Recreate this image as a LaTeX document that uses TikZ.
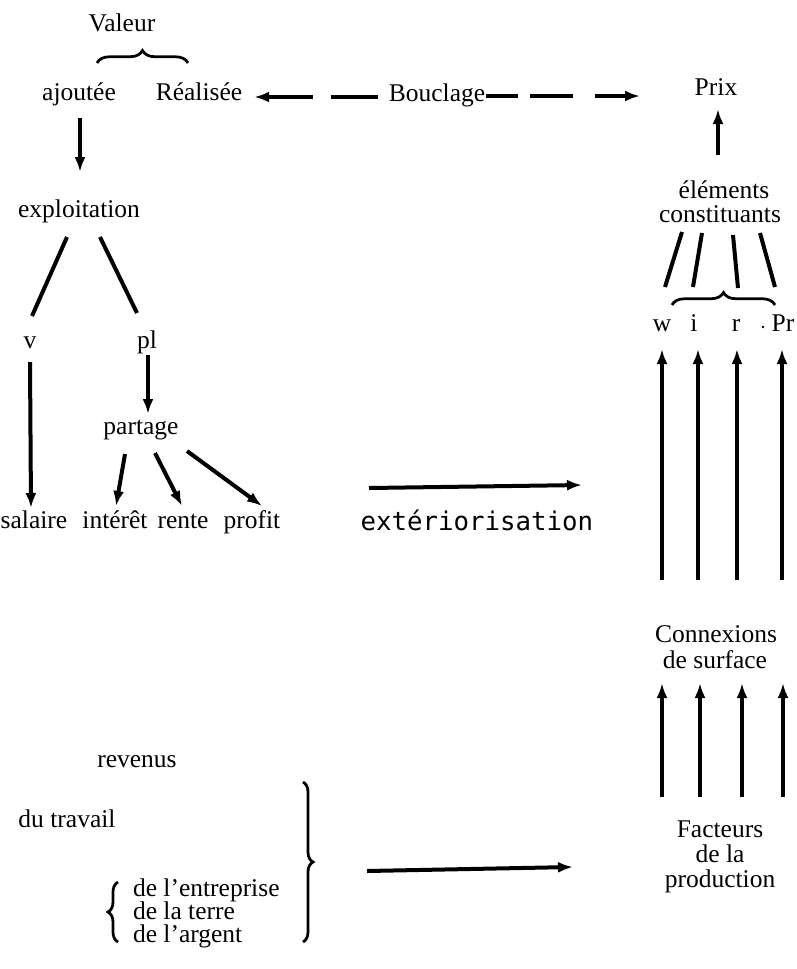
\documentclass[tikz,border=0pt]{standalone}
\usepackage{fontspec}
\setmainfont{Liberation Serif}
\newfontfamily\monof{DejaVu Sans Mono}
\usetikzlibrary{arrows.meta,calc,decorations.pathreplacing}
\begin{document}
\begin{tikzpicture}[x=0.4pt,y=-0.4pt,
  lbl/.style={inner sep=0pt,outer sep=0pt,anchor=base,font=\fontsize{10.2}{11}\selectfont},
  lblw/.style={lbl,anchor=base west},
  ln/.style={line width=1.6pt},
  arr/.style={line width=1.6pt,-{Latex[length=6pt,width=4.4pt]}},
  brc/.style={line width=1.1pt,decorate,decoration={brace,amplitude=#1}}]
\useasboundingbox (0,0) rectangle (796,969);
% --- nodes
\node[lbl] (valeur) at (122,31) {Valeur};
\node[lbl] (ajoutee) at (79,100) {ajoutée};
\node[lbl] (realisee) at (199,100) {Réalisée};
\node[lbl] (bouclage) at (437,101) {Bouclage};
\node[lbl] (prix) at (716,95) {Prix};
\node[lbl] (expl) at (79,217) {exploitation};
\node[lbl] (elem) at (724,198) {éléments};
\node[lbl] (const) at (720,222) {constituants};
\node[lbl] (w) at (662,331) {w};
\node[lbl] (i) at (694,331) {i};
\node[lbl] (r) at (736,331) {r};
\node[lbl] (pr) at (783,331) {Pr};
\node[lbl] (v) at (30,348) {v};
\node[lbl] (pl) at (147,348) {pl};
\node[lbl] (partage) at (141,434) {partage};
\node[lbl] (salaire) at (34,528) {salaire};
\node[lbl] (interet) at (115,528) {intérêt};
\node[lbl] (rente) at (183,528) {rente};
\node[lbl] (profit) at (252,528) {profit};
\node[lbl,font=\monof\fontsize{10.3}{12}\selectfont] (ext) at (477,530) {extériorisation};
\node[lbl] (conn) at (716,642) {Connexions};
\node[lbl] (surf) at (715,668) {de surface};
\node[lbl] (fact) at (720,837) {Facteurs};
\node[lbl] (dela) at (720,862) {de la};
\node[lbl] (prod) at (720,887) {production};
\node[lbl] (revenus) at (137,767) {revenus};
\node[lbl] (travail) at (67,827) {du travail};
\node[lblw] (entre) at (133,896) {de l’entreprise};
\node[lblw] (terre) at (133,919) {de la terre};
\node[lblw] (argent) at (133,942) {de l’argent};
\fill (763,327) circle[radius=1.3];
% --- braces
\draw[brc=5pt] (97,63) -- (188,63);
\draw[brc=5pt] (672,305) -- (775,305);
\draw[brc=4pt] (303,782) -- (303,942);
\draw[brc=4pt] (118,942) -- (118,882);
% --- connectors top
\draw[arr] ($(ajoutee.base)+(1,18)$) -- ($(expl.base)+(1,-45)$);
\draw[arr,dash pattern=on 18.8pt off 7.2pt on 60pt] ($(bouclage.base west)+(-11,-4)$) -- ($(realisee.base east)+(12,-3)$);
\draw[arr,dash pattern=on 12.8pt off 4.8pt on 17.2pt off 8.8pt on 60pt] ($(bouclage.base east)+(1,-5)$) -- ($(prix.base)+(-76,1)$);
\draw[arr] ($(elem.base)+(-6,-43)$) -- ($(prix.base)+(2,14)$);
% --- elements constituants to w i r Pr
\draw[ln] ($(const.base)+(-38,10)$) -- ($(w.base)+(3,-44)$);
\draw[ln] ($(const.base)+(-18,11)$) -- ($(i.base)+(-1,-44)$);
\draw[ln] ($(const.base)+(13,13)$) -- ($(r.base)+(2,-43)$);
\draw[ln] ($(const.base)+(40,11)$) -- ($(pr.base)+(-8,-44)$);
% --- long arrows
\draw[arr] ($(conn.base)+(-54,-62)$) -- ($(w.base)+(0,18)$);
\draw[arr] ($(conn.base)+(-18,-62)$) -- ($(i.base)+(4,18)$);
\draw[arr] ($(conn.base)+(21,-62)$) -- ($(r.base)+(1,18)$);
\draw[arr] ($(conn.base)+(66,-62)$) -- ($(pr.base)+(-1,18)$);
% --- short arrows
\draw[arr] ($(fact.base)+(-58,-40)$) -- ($(surf.base)+(-53,15)$);
\draw[arr] ($(fact.base)+(-20,-40)$) -- ($(surf.base)+(-15,15)$);
\draw[arr] ($(fact.base)+(22,-40)$) -- ($(surf.base)+(27,15)$);
\draw[arr] ($(fact.base)+(63,-40)$) -- ($(surf.base)+(68,15)$);
% --- left tree
\draw[ln] ($(expl.base)+(-12,20)$) -- ($(v.base)+(2,-32)$);
\draw[ln] ($(expl.base)+(21,20)$) -- ($(pl.base)+(-10,-35)$);
\draw[arr] ($(v.base)+(0,14)$) -- ($(salaire.base)+(-3,-20)$);
\draw[arr] ($(pl.base)+(1,7)$) -- ($(partage.base)+(7,-20)$);
\draw[arr] ($(partage.base)+(-16,20)$) -- ($(interet.base)+(1,-22)$);
\draw[arr] ($(partage.base)+(14,19)$) -- ($(rente.base)+(-1,-22)$);
\draw[arr] ($(partage.base)+(46,17)$) -- ($(profit.base)+(10,-22)$);
% --- exteriorisation
\draw[arr] ($(ext.base)+(-108,-42)$) -- ($(ext.base)+(105,-45)$);
% --- bottom arrow
\coordinate (bstart) at (367,871);
\draw[arr] (bstart) -- ($(dela.base)+(-147,5)$);
\end{tikzpicture}
\end{document}
